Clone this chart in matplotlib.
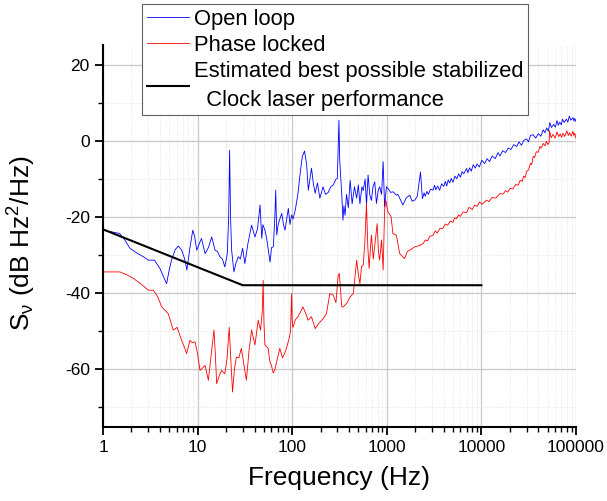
import numpy as np
import matplotlib.pyplot as plt
from matplotlib.ticker import LogLocator, MultipleLocator, FixedLocator

plt.rcParams['font.family'] = ['Liberation Sans', 'DejaVu Sans']
plt.rcParams['mathtext.fontset'] = 'custom'
plt.rcParams['mathtext.rm'] = 'Liberation Sans'
plt.rcParams['mathtext.it'] = 'Liberation Sans:italic'
plt.rcParams['axes.unicode_minus'] = False

# Open loop
f_open = [1.0, 1.2, 1.5, 1.7, 1.93, 2.3, 2.67, 3.0, 3.5, 4.0, 4.7, 5.0, 5.3, 5.8, 6.26,
          6.8, 7.3, 7.7, 8.3, 8.9, 9.3, 9.8, 10.4, 11.0, 12.0, 13.0, 14.1, 15.3, 16.2,
          17.2, 18.3, 19.4, 20.6, 21.3, 21.8, 22.3, 22.9, 24.2, 25.5, 26.9, 28.3, 29.9,
          31.6, 34, 37.2, 40.4, 43, 45.7, 47.7, 49, 51.5, 54, 56, 58.3, 60.5, 63.2, 65.5,
          67, 68.6, 71, 74, 77.5, 81, 84, 88, 91, 94.8, 98.5, 102, 108, 115, 122, 128,
          135, 142, 148, 154, 160, 167, 175, 185, 196, 212, 225, 240, 255, 272, 290, 300,
          312, 318, 334, 344, 352, 362, 375, 392, 410, 430, 455, 480, 500, 520, 545, 563,
          590, 610, 634, 660, 687, 715, 746, 777, 810, 840, 880, 915, 948, 990, 1026,
          1100, 1160, 1265, 1310, 1400, 1480, 1600, 1750, 1850, 1975, 2100, 2270, 2380,
          2480, 2550, 2650, 2750, 2900, 3080, 3200, 3300, 3450, 3620, 3800, 4000, 4150,
          4300, 4450, 4620, 4800, 5000, 5250, 5500, 5750, 6000, 6250, 6500, 6970, 7200,
          7500, 7800, 8200, 8600, 9000, 9500, 10100, 10800, 11500, 12200, 13000, 14000,
          15000, 15700, 16800, 18000, 19200, 20500, 22000, 23600, 25000, 26500, 28000,
          30100, 31500, 33000, 35300, 37500, 40000, 42500, 45000, 47000, 49000, 51000,
          52900, 55000, 58000, 60500, 63000, 65000, 67300, 70000, 72000, 75000, 79000,
          82000, 85000, 88000, 92700, 95000, 97000, 100000]
s_open = [-23.4, -23.8, -24.3, -26, -28.2, -29.5, -30.4, -31.3, -31.3, -33.5, -37.5, -34,
          -31.3, -28.5, -27.6, -28.7, -31, -33.9, -28, -23.4, -25, -28.7, -27, -25.6,
          -29.6, -28, -25.2, -28.7, -29, -30.4, -31, -33.1, -29.6, -20, -2.4, -20, -28.7,
          -34.4, -32, -30.4, -31, -28.2, -32.2, -27, -22.1, -25.2, -23, -16.8, -25.6, -22,
          -23.4, -26, -28.7, -31.8, -28, -27.8, -20, -12.9, -24.7, -22, -20.5, -19.0, -22,
          -23.4, -20, -17.7, -21.9, -19.4, -20.5, -18, -13.8, -8, -4, -2.6, -6, -12.9, -10,
          -7.1, -11, -13.7, -11, -15, -12, -14, -13.5, -12, -11.5, -10, -9.8, 5.5, -5, -14,
          -20.8, -17, -19.5, -14, -17.5, -10.3, -16.5, -12, -15, -11.5, -16.5, -12, -13,
          -10, -16.8, -8.9, -14, -15.6, -12, -10.7, -16.4, -13, -12, -14, -5.4, -17.3, -12,
          -12.4, -13.5, -13.3, -14.2, -14, -15.5, -16.8, -15, -14.2, -15.8, -15.5, -14.5,
          -8.1, -15.1, -13.6, -14.5, -13.2, -14.0, -12.6, -12.9, -11.6, -12.8, -11.8,
          -12.9, -11.2, -11.9, -10.6, -11.8, -10.2, -11.0, -9.8, -10.8, -9.2, -9.9, -8.6,
          -9.5, -8.0, -8.6, -7.2, -8.3, -7.0, -7.9, -6.2, -7.1, -6.0, -6.8, -5.0, -5.9,
          -4.6, -5.4, -3.9, -4.6, -3.0, -3.9, -2.5, -3.0, -1.8, -2.2, -0.9, -1.4, -0.2,
          -1.1, 0.2, 0.6, -0.2, 1.5, 1.7, 0.8, 2.0, 1.3, 3.0, 2.2, 3.5, 2.6, 4.9, 3.6, 4.4,
          3.7, 5.4, 4.2, 5.0, 4.3, 5.8, 4.9, 5.8, 5.0, 6.6, 5.5, 6.2, 5.3, 6.0, 5.1]

# Phase locked
f_lock = [1.0, 1.3, 1.51, 1.8, 2.09, 2.5, 3.01, 3.4, 3.8, 4.17, 4.9, 5.53, 6.08, 6.78, 7.2,
          7.66, 8.3, 8.8, 9.4, 10.0, 10.6, 12.0, 13.0, 13.8, 14.9, 15.4, 15.9, 16.8, 17.9,
          19.4, 20.5, 21.6, 22.5, 23.4, 24.5, 25.7, 27.3, 29, 31, 32.8, 35, 37.2, 40.4,
          43.7, 46.3, 48.2, 49.3, 50.3, 51.5, 55.7, 58, 60.3, 63, 65.3, 70, 74, 79, 84, 88,
          92.8, 96, 98.5, 100, 102, 108, 115, 122, 130, 140, 147, 160, 175, 190, 212, 230,
          250, 272, 290, 306, 315, 334, 346, 376, 410, 443, 460, 480, 500, 520, 540, 563,
          585, 610, 630, 650, 687, 720, 746, 790, 815, 840, 880, 915, 948, 975, 1026, 1110,
          1160, 1260, 1370, 1540, 1650, 1800, 1975, 2200, 2430, 2550, 2700, 2850, 3080,
          3250, 3400, 3650, 3900, 4150, 4400, 4700, 5000, 5200, 5460, 5750, 6000, 6400,
          6970, 7400, 8000, 8500, 9000, 9560, 10200, 11300, 12000, 13000, 14200, 15700,
          17000, 18000, 19000, 20100, 21500, 23000, 24500, 25700, 27000, 28000, 29000,
          30100, 31500, 33000, 34000, 35300, 36500, 38000, 40000, 41500, 43000, 45000,
          47000, 48700, 50500, 52000, 52500, 54500, 57200, 60000, 63000, 65500, 68000,
          70500, 72900, 76000, 80000, 83000, 86000, 89000, 92700, 95000, 97000, 100000]
s_lock = [-34.4, -34.4, -34.4, -35.2, -36.1, -37.5, -39.2, -39.2, -41, -43.6, -45.4, -49.7,
          -49, -52.4, -54, -55.9, -52.4, -53, -52.8, -56, -60.3, -59, -62.9, -57, -49.7,
          -56, -63.8, -62, -60.3, -61.2, -57, -49, -58, -66, -60, -56.8, -57, -54.5, -59,
          -62.9, -55, -49.7, -53.6, -47.1, -49.7, -45, -36.6, -48, -53.6, -54.5, -58, -59,
          -61, -60.3, -57, -54.5, -57, -55.6, -54, -51.9, -50, -40.1, -47, -49, -47, -46.2,
          -45, -43.6, -45.5, -47.1, -46.2, -49.3, -48, -46.7, -45.4, -40.1, -40.5, -42.5,
          -35.3, -34.8, -43.6, -43.6, -42.7, -41, -40, -36, -31.3, -35, -37.5, -33, -32.6,
          -27, -16.4, -27.8, -33.5, -24.7, -31, -27.4, -21.7, -29, -31.3, -26, -33.9, -18.2,
          -15.5, -18.6, -19.8, -24.3, -24.7, -29.6, -30.9, -29, -28.5, -27.8, -27.5, -26.9,
          -26.0, -26.2, -25.0, -24.8, -23.6, -24.2, -22.9, -23.0, -21.8, -22.1, -21.0,
          -21.4, -20.2, -20.4, -19.4, -19.8, -18.6, -18.8, -17.4, -18.0, -16.8, -17.2,
          -16.0, -16.6, -15.5, -15.9, -14.8, -15.0, -13.8, -13.9, -13.0, -13.4, -12.4,
          -12.6, -11.4, -11.6, -10.3, -10.6, -9.2, -9.6, -7.9, -7.6, -5.8, -6.2, -4.0,
          -4.3, -2.8, -2.9, -1.4, -1.8, -0.6, -1.2, 0.0, -0.9, -0.4, 2.8, 0.9, 1.8, 0.8,
          2.4, 1.2, 1.9, 1.0, 2.1, 1.2, 2.7, 1.5, 2.2, 1.3, 2.6, 1.5, 2.1, 0.7]

# Meilleure performance estimée
f_best = [1, 30, 10000]
s_best = [-23.2, -37.9, -37.9]

fig = plt.figure(figsize=(6.07, 5.01), dpi=100)
ax = fig.add_axes([103/607, 1-427/501, (576-103)/607, (427-45)/501])

ax.plot(f_open, s_open, color='#0000ff', lw=0.6, label='Open loop')
ax.plot(f_lock, s_lock, color='#ff0000', lw=0.6, label='Phase locked')
ax.plot(f_best, s_best, color='black', lw=1.5,
        label='Estimated best possible stabilized\n  Clock laser performance')

ax.set_xscale('log')
ax.set_xlim(1, 100000)
ax.set_ylim(-75.2, 25.3)
ax.set_xticks([1, 10, 100, 1000, 10000, 100000])
ax.set_xticklabels(['1', '10', '100', '1000', '10000', '100000'])
ax.xaxis.set_minor_locator(LogLocator(base=10, subs=np.arange(2, 10), numticks=20))
ax.yaxis.set_major_locator(FixedLocator([-60, -40, -20, 0, 20]))
ax.yaxis.set_minor_locator(MultipleLocator(10))

ax.grid(True, which='major', color='#c8c8c8', lw=0.9)
ax.grid(True, which='minor', color='#dddddd', lw=0.6, linestyle=':')
ax.set_axisbelow(True)

for side in ['top', 'right']:
    ax.spines[side].set_visible(False)
for side in ['left', 'bottom']:
    ax.spines[side].set_linewidth(1.5)

ax.tick_params(which='major', direction='out', length=6, width=1.3, labelsize=12.5)
ax.tick_params(which='minor', direction='out', length=3.5, width=1.0)

ax.set_xlabel('Frequency (Hz)', fontsize=19, labelpad=8)
ax.set_ylabel(r'S$_\mathrm{\nu}$ (dB Hz$^2$/Hz)', fontsize=19)
ax.yaxis.set_label_coords(-0.137, 0.482)

leg = ax.legend(loc='upper left', bbox_to_anchor=(142/607, 1-4/501),
                bbox_transform=fig.transFigure, fontsize=15.8, frameon=True,
                fancybox=False, framealpha=1, edgecolor='#606060',
                handlelength=1.9, handletextpad=0.25, labelspacing=0.24,
                borderpad=0.22, borderaxespad=0)
leg.get_frame().set_linewidth(0.8)
leg.get_texts()[2].set_linespacing(1.45)

fig.savefig('out.png', dpi=100)
